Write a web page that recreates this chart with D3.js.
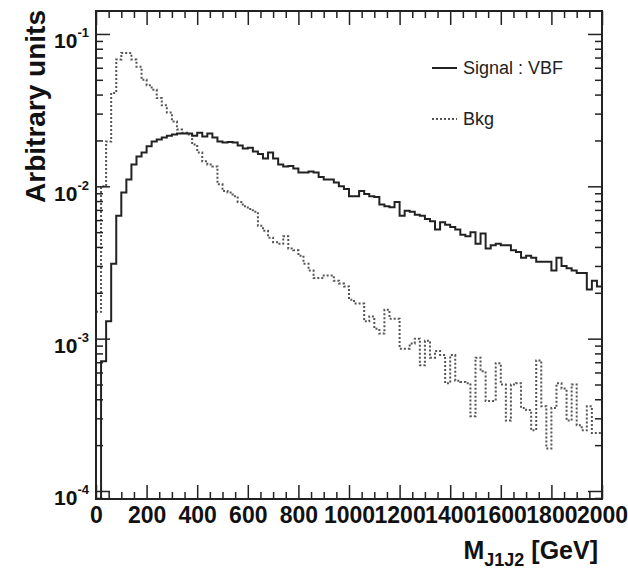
<!DOCTYPE html>
<html>
<head>
<meta charset="utf-8">
<script src="https://cdn.jsdelivr.net/npm/d3@7"></script>
<style>
  body { margin: 0; background: #fff; }
  svg { display: block; }
</style>
</head>
<body>
<div id="chart"></div>
<script>
// values: 100 bins of 20 GeV from 0 to 2000
const binWidth = 20;
const xTickValues = [0, 200, 400, 600, 800, 1000, 1200, 1400, 1600, 1800, 2000];
const yDecades = [1e-4, 1e-3, 1e-2, 1e-1];

const signalVBF = [
  0, 0.00071, 0.0013, 0.0031, 0.0064, 0.0091, 0.0111, 0.0139, 0.0157, 0.0167,
  0.0183, 0.0197, 0.0203, 0.0209, 0.0215, 0.0219, 0.0222, 0.0222, 0.0222, 0.0215,
  0.0225, 0.0212, 0.0222, 0.0209, 0.0197, 0.0194, 0.0195, 0.0194, 0.0185, 0.0177,
  0.0179, 0.0169, 0.0163, 0.0152, 0.0167, 0.0152, 0.0139, 0.0135, 0.0136, 0.0131,
  0.0123, 0.0123, 0.0125, 0.0123, 0.0115, 0.0111, 0.0111, 0.0106, 0.0100, 0.0096,
  0.0086, 0.0086, 0.0093, 0.0089, 0.0086, 0.0085, 0.0076, 0.0074, 0.0073, 0.0079,
  0.0064, 0.0069, 0.0068, 0.0065, 0.0064, 0.0061, 0.0059, 0.0052, 0.0058, 0.0056,
  0.0054, 0.0052, 0.0048, 0.0047, 0.0050, 0.0042, 0.0049, 0.0039, 0.0041, 0.0042,
  0.0041, 0.0041, 0.0038, 0.0037, 0.0034, 0.0035, 0.0034, 0.0032, 0.0032, 0.0032,
  0.0028, 0.0034, 0.0030, 0.0029, 0.0028, 0.0027, 0.0027, 0.0021, 0.0024, 0.0022
];

const bkg = [
  0.0015, 0.0100, 0.0197, 0.041, 0.068, 0.075, 0.075, 0.068, 0.061, 0.050,
  0.046, 0.043, 0.038, 0.034, 0.0305, 0.0266, 0.0236, 0.0225, 0.0219, 0.0188,
  0.0167, 0.0146, 0.0139, 0.0135, 0.0103, 0.0093, 0.0091, 0.0086, 0.0079, 0.0074,
  0.0071, 0.0068, 0.0055, 0.0051, 0.0046, 0.0043, 0.0042, 0.0047, 0.0039, 0.0038,
  0.0035, 0.0031, 0.0028, 0.0025, 0.0025, 0.0026, 0.0026, 0.0024, 0.0023, 0.0022,
  0.0018, 0.0017, 0.0017, 0.0013, 0.0014, 0.00116, 0.00108, 0.00155, 0.00135, 0.00135,
  0.00086, 0.00086, 0.00093, 0.0010, 0.00067, 0.00097, 0.00075, 0.00083, 0.00078, 0.00051,
  0.00078, 0.00053, 0.00052, 0.00051, 0.00031, 0.00075, 0.00061, 0.00039, 0.00039, 0.00069,
  0.00050, 0.00029, 0.00050, 0.00051, 0.00035, 0.00034, 0.00025, 0.00072, 0.00036, 0.00019,
  0.00035, 0.00051, 0.00047, 0.00029, 0.00050, 0.00027, 0.00025, 0.00036, 0.00024, 0.00024
];

const legendLabels = ["Signal : VBF", "Bkg"];

const width = 628, height = 572;
const plot = { left: 96, right: 602, top: 11, bottom: 499 };
const font = "'Liberation Sans', Arial, Helvetica, sans-serif";

const x = d3.scaleLinear().domain([0, 2000]).range([plot.left, plot.right]);
const y = d3.scaleLog().domain([0.886e-4, 0.1415]).range([plot.bottom, plot.top]);

const svg = d3.select("#chart").append("svg")
  .attr("width", width)
  .attr("height", height)
  .attr("font-family", font);

svg.append("rect").attr("width", width).attr("height", height).attr("fill", "#fff");

svg.append("clipPath").attr("id", "plotclip")
  .append("rect")
  .attr("x", plot.left).attr("y", plot.top)
  .attr("width", plot.right - plot.left).attr("height", plot.bottom - plot.top);

// histogram as steps
const stepLine = d3.line()
  .x(d => x(d[0]))
  .y(d => y(Math.max(d[1], y.domain()[0])))
  .curve(d3.curveStepAfter);

const toSteps = vals => {
  const pts = vals.map((v, i) => [i * binWidth, v]);
  pts.push([vals.length * binWidth, vals[vals.length - 1]]);
  return pts;
};

const series = [
  { name: legendLabels[0], values: signalVBF, color: "#222", dash: null },
  { name: legendLabels[1], values: bkg, color: "#555", dash: "2,2" }
];

const hist = svg.append("g").attr("clip-path", "url(#plotclip)");
hist.selectAll("path")
  .data(series.slice().reverse())
  .join("path")
  .attr("d", d => stepLine(toSteps(d.values)))
  .attr("fill", "none")
  .attr("stroke", d => d.color)
  .attr("stroke-width", 2)
  .attr("stroke-dasharray", d => d.dash);

// axes: ticks on all four sides, pointing inwards
const majorLen = 14, minorLen = 7;
const xMinor = d3.range(0, 2001, 50).filter(v => v % 200 !== 0);
const yMinor = y.ticks().filter(v => !yDecades.some(d => Math.abs(v / d - 1) < 1e-6));

const styleAxis = g => {
  g.select(".domain").remove();
  g.selectAll(".tick line").attr("stroke", "#222").attr("stroke-width", 1.5);
};

// bottom
svg.append("g")
  .attr("transform", `translate(0,${plot.bottom})`)
  .call(d3.axisBottom(x).tickValues(xTickValues).tickSizeInner(-majorLen).tickFormat(d3.format("d")))
  .call(styleAxis)
  .call(g => g.selectAll(".tick text")
    .attr("font-family", font).attr("font-size", 23).attr("font-weight", "bold")
    .attr("fill", "#111").attr("dy", null).attr("y", 24));
svg.append("g")
  .attr("transform", `translate(0,${plot.bottom})`)
  .call(d3.axisBottom(x).tickValues(xMinor).tickSizeInner(-minorLen).tickFormat(""))
  .call(styleAxis);
// top
svg.append("g")
  .attr("transform", `translate(0,${plot.top})`)
  .call(d3.axisTop(x).tickValues(xTickValues).tickSizeInner(-majorLen).tickFormat(""))
  .call(styleAxis);
svg.append("g")
  .attr("transform", `translate(0,${plot.top})`)
  .call(d3.axisTop(x).tickValues(xMinor).tickSizeInner(-minorLen).tickFormat(""))
  .call(styleAxis);
// left
const leftAxis = svg.append("g")
  .attr("transform", `translate(${plot.left},0)`)
  .call(d3.axisLeft(y).tickValues(yDecades).tickSizeInner(-majorLen).tickFormat(""))
  .call(styleAxis);
svg.append("g")
  .attr("transform", `translate(${plot.left},0)`)
  .call(d3.axisLeft(y).tickValues(yMinor).tickSizeInner(-minorLen).tickFormat(""))
  .call(styleAxis);
// right
svg.append("g")
  .attr("transform", `translate(${plot.right},0)`)
  .call(d3.axisRight(y).tickValues(yDecades).tickSizeInner(-majorLen).tickFormat(""))
  .call(styleAxis);
svg.append("g")
  .attr("transform", `translate(${plot.right},0)`)
  .call(d3.axisRight(y).tickValues(yMinor).tickSizeInner(-minorLen).tickFormat(""))
  .call(styleAxis);

// y labels as 10^n
leftAxis.selectAll(".tick").each(function (d) {
  const t = d3.select(this).select("text")
    .text(null)
    .attr("x", -7).attr("dy", null).attr("y", 14)
    .attr("text-anchor", "end")
    .attr("font-family", font).attr("font-weight", "bold").attr("fill", "#111");
  t.append("tspan").attr("font-size", 21).text("10");
  t.append("tspan").attr("font-size", 13).attr("dy", -11).text(String(Math.round(Math.log10(d))));
});

// frame
svg.append("rect")
  .attr("x", plot.left).attr("y", plot.top)
  .attr("width", plot.right - plot.left).attr("height", plot.bottom - plot.top)
  .attr("fill", "none").attr("stroke", "#222").attr("stroke-width", 2);

// axis titles
svg.append("text")
  .attr("transform", `translate(45,${plot.top - 1}) rotate(-90)`)
  .attr("text-anchor", "end")
  .attr("font-size", 28).attr("font-weight", "bold").attr("fill", "#111")
  .text("Arbitrary units");

const xTitle = svg.append("text")
  .attr("x", 598).attr("y", 559)
  .attr("text-anchor", "end")
  .attr("font-size", 25).attr("font-weight", "bold").attr("fill", "#111");
xTitle.append("tspan").text("M");
xTitle.append("tspan").attr("font-size", 18).attr("dy", 7).text("J1J2");
xTitle.append("tspan").attr("dy", -7).text(" [GeV]");

// legend
const legend = svg.append("g").attr("transform", "translate(432,68)");
const item = legend.selectAll("g")
  .data(series)
  .join("g")
  .attr("transform", (d, i) => `translate(0,${i * 51})`);
item.append("line")
  .attr("x1", 0).attr("x2", 25)
  .attr("stroke", d => d.color).attr("stroke-width", 2)
  .attr("stroke-dasharray", d => d.dash);
item.append("text")
  .attr("x", 31).attr("y", 6)
  .attr("font-size", 18).attr("fill", "#222")
  .text(d => d.name);
</script>
</body>
</html>
